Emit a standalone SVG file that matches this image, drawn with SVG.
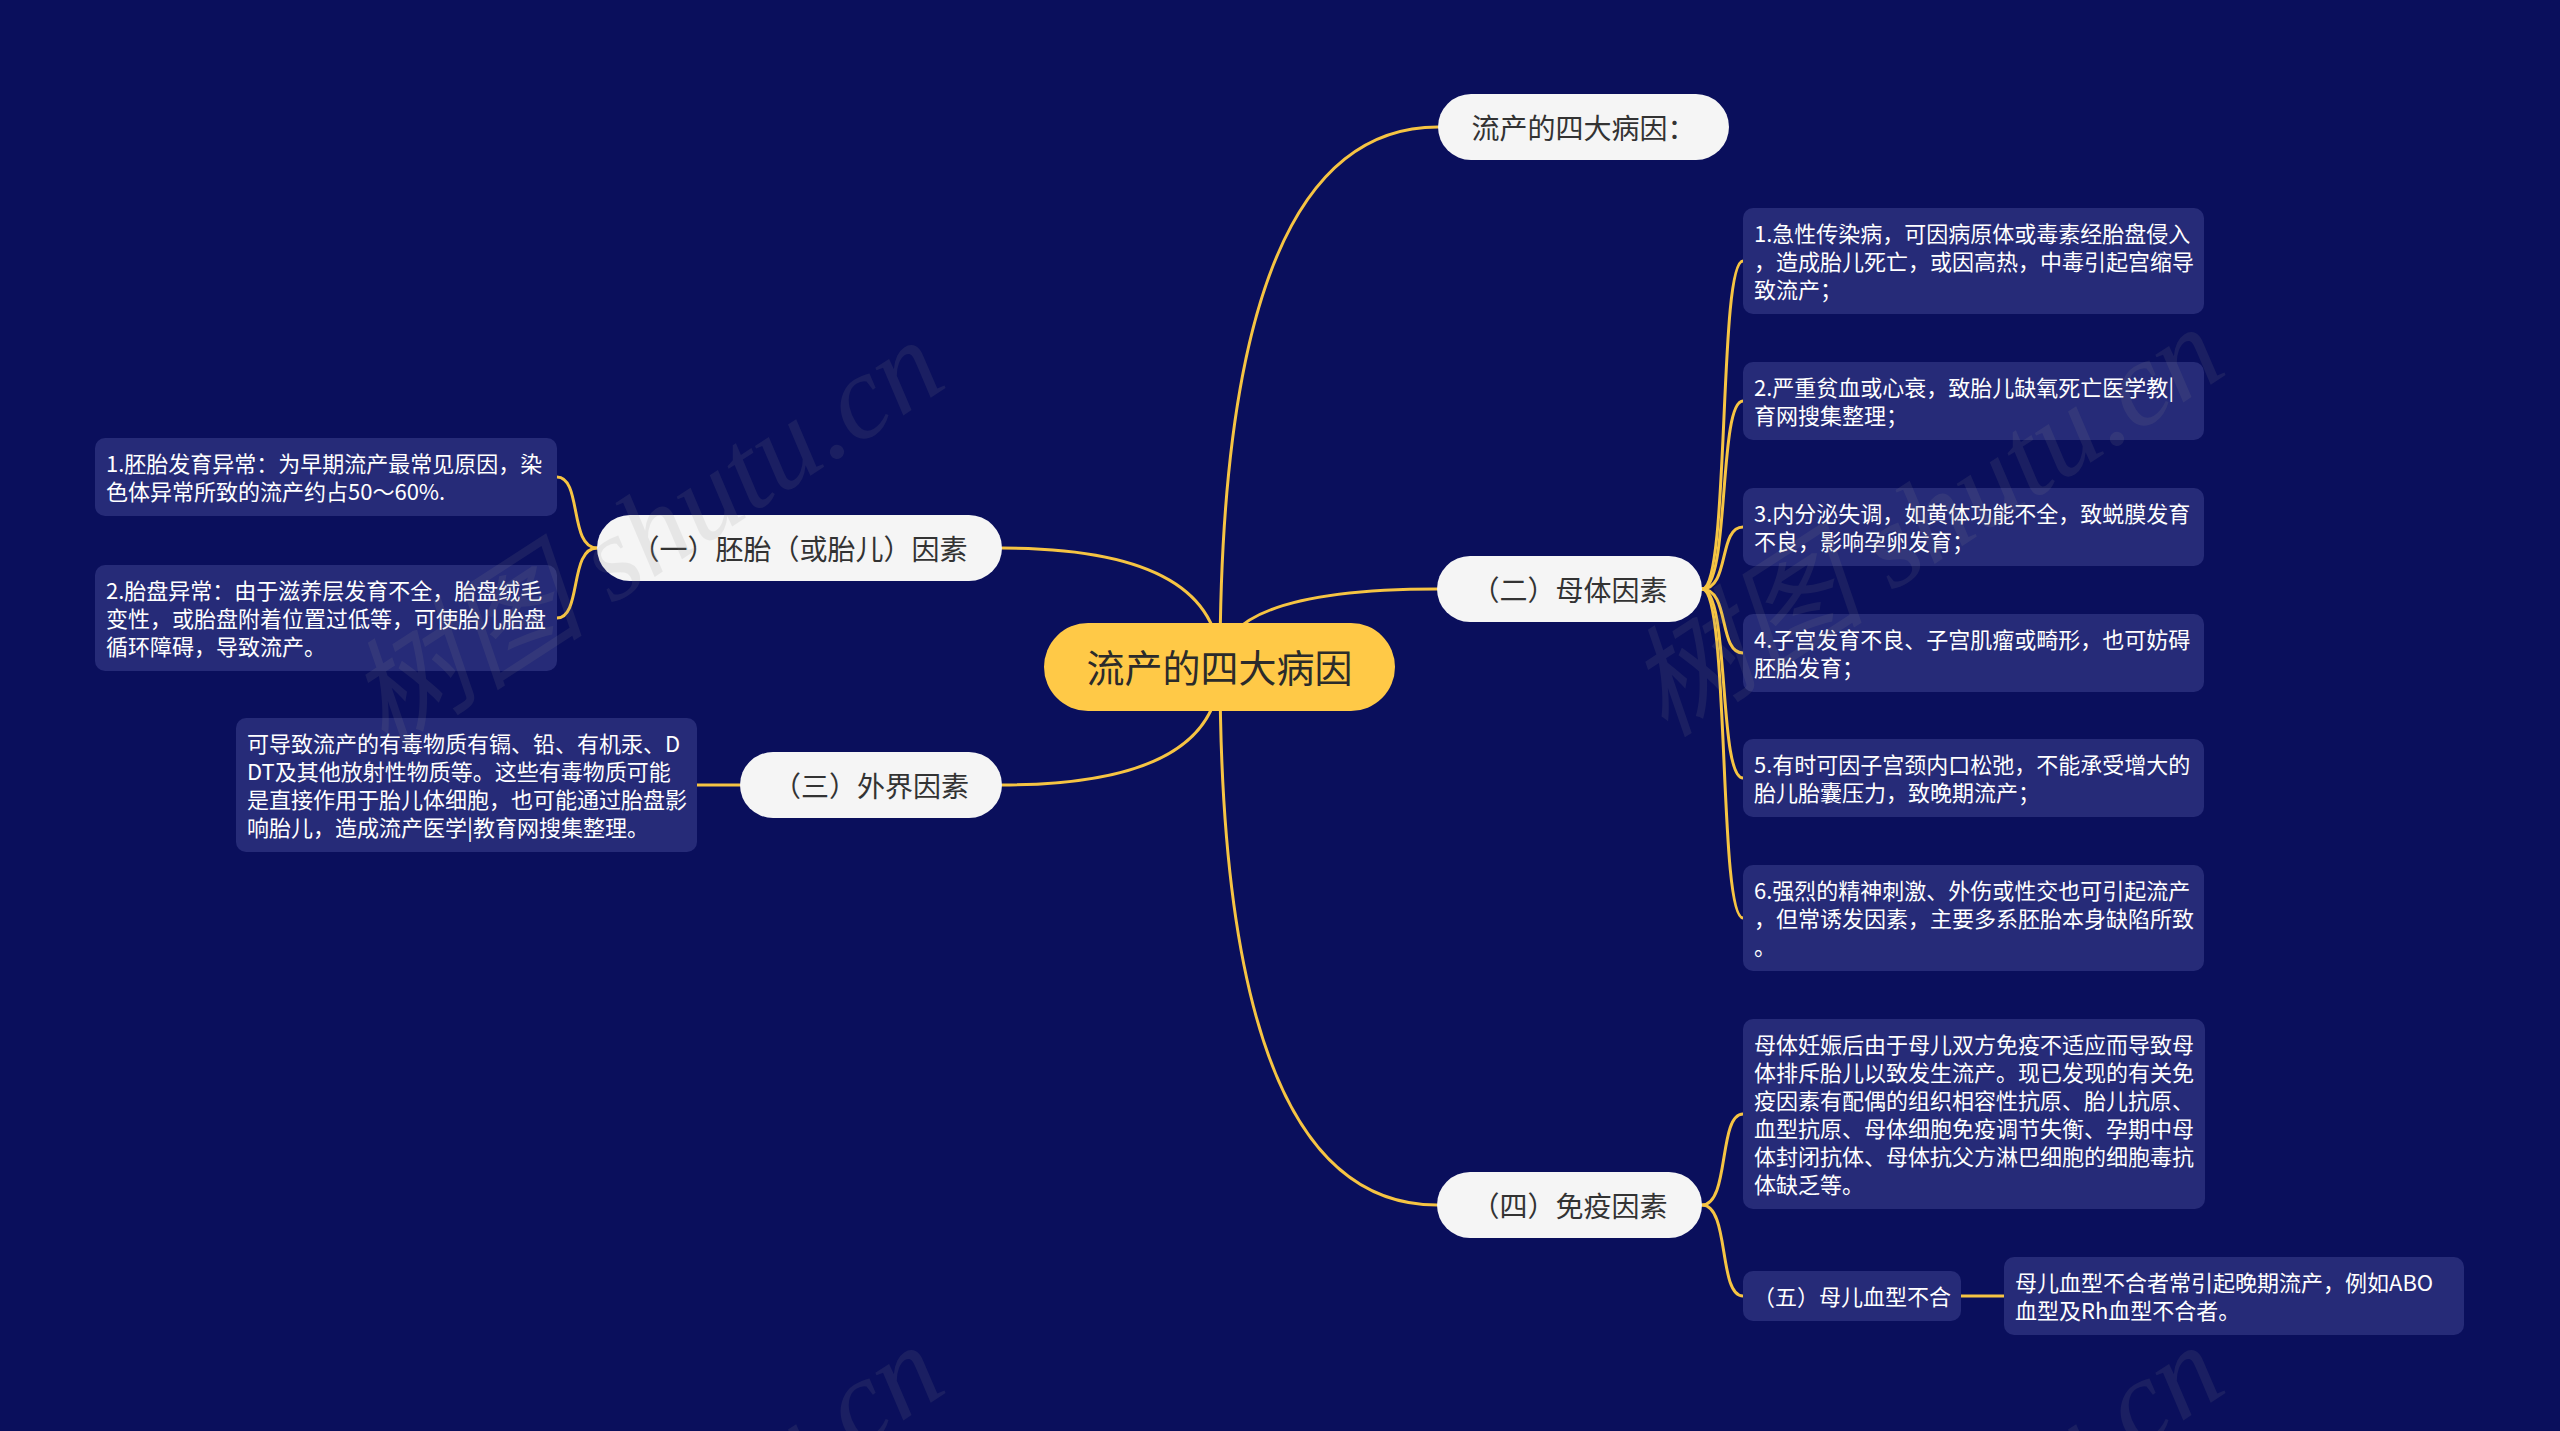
<svg xmlns="http://www.w3.org/2000/svg" width="2560" height="1431" viewBox="0 0 2560 1431">
<style>
.edge{fill:none;stroke:#F6C443;stroke-width:3;stroke-linecap:round}
.pill{fill:#F5F5F5}
.root{fill:#FFC947}
.leaf{fill:#262B78}
.pt{font-family:'Noto Sans CJK SC','Noto Sans',sans-serif;font-size:28px;fill:#333333;text-anchor:middle;dominant-baseline:central}
.rt{font-family:'Noto Sans CJK SC','Noto Sans',sans-serif;font-size:38px;fill:#2B2B2B;text-anchor:middle;dominant-baseline:central}
.lt{font-family:'Noto Sans CJK SC','Noto Sans',sans-serif;font-size:22px;fill:#FFFFFF;dominant-baseline:central}
.wm{font-family:'Liberation Serif','Noto Sans CJK SC',serif;font-style:italic;font-size:120px;fill:#8A8A8A;opacity:0.13;text-anchor:end}
</style>
<rect width="2560" height="1431" fill="#0A0F5C"/>

<g id="connectors">
  <path class="edge" d="M1220 667 Q1220 127 1438 127"/>
  <path class="edge" d="M1220 667 Q1220 548 1002 548"/>
  <path class="edge" d="M1220 667 Q1220 589 1437 589"/>
  <path class="edge" d="M1220 667 Q1220 785 1002 785"/>
  <path class="edge" d="M1220 667 Q1220 1205 1437 1205"/>
  <path class="edge" d="M1702 589 C1730 589 1718 261 1743 261"/>
  <path class="edge" d="M1702 589 C1730 589 1718 401 1743 401"/>
  <path class="edge" d="M1702 589 C1730 589 1718 527 1743 527"/>
  <path class="edge" d="M1702 589 C1730 589 1718 653 1743 653"/>
  <path class="edge" d="M1702 589 C1730 589 1718 778 1743 778"/>
  <path class="edge" d="M1702 589 C1730 589 1718 918 1743 918"/>
  <path class="edge" d="M1702 1205 C1730 1205 1718 1114 1743 1114"/>
  <path class="edge" d="M1702 1205 C1730 1205 1718 1296 1743 1296"/>
  <path class="edge" d="M1961 1296 H2004"/>
  <path class="edge" d="M597 548 C569 548 582 477 557 477"/>
  <path class="edge" d="M597 548 C569 548 582 618 557 618"/>
  <path class="edge" d="M740 785 H697"/>
</g>

<g id="root">
  <rect class="root" x="1044" y="623" width="351" height="88" rx="44"/>
  <text class="rt" x="1219.5" y="665">流产的四大病因</text>
</g>

<g id="n-top">
  <rect class="pill" x="1438" y="94" width="291" height="66" rx="33"/>
  <text class="pt" x="1583.5" y="127">流产的四大病因：</text>
</g>

<g id="n-1">
  <rect class="pill" x="597" y="515" width="405" height="66" rx="33"/>
  <text class="pt" x="799.5" y="548">（一）胚胎（或胎儿）因素</text>
</g>

<g id="n-2">
  <rect class="pill" x="1437" y="556" width="265" height="66" rx="33"/>
  <text class="pt" x="1569.5" y="589">（二）母体因素</text>
</g>

<g id="n-3">
  <rect class="pill" x="740" y="752" width="262" height="66" rx="33"/>
  <text class="pt" x="871" y="785">（三）外界因素</text>
</g>

<g id="n-4">
  <rect class="pill" x="1437" y="1172" width="265" height="66" rx="33"/>
  <text class="pt" x="1569.5" y="1205">（四）免疫因素</text>
</g>

<g id="l-1-1">
  <rect class="leaf" x="95" y="438" width="462" height="78" rx="10"/>
  <text class="lt" x="106" y="461.5">1.胚胎发育异常：为早期流产最常见原因，染</text>
  <text class="lt" x="106" y="489.5">色体异常所致的流产约占50～60%.</text>
</g>

<g id="l-1-2">
  <rect class="leaf" x="95" y="565" width="462" height="106" rx="10"/>
  <text class="lt" x="106" y="588.5">2.胎盘异常：由于滋养层发育不全，胎盘绒毛</text>
  <text class="lt" x="106" y="616.5">变性，或胎盘附着位置过低等，可使胎儿胎盘</text>
  <text class="lt" x="106" y="644.5">循环障碍，导致流产。</text>
</g>

<g id="l-3-1">
  <rect class="leaf" x="236" y="718" width="461" height="134" rx="10"/>
  <text class="lt" x="247" y="741.5">可导致流产的有毒物质有镉、铅、有机汞、D</text>
  <text class="lt" x="247" y="769.5">DT及其他放射性物质等。这些有毒物质可能</text>
  <text class="lt" x="247" y="797.5">是直接作用于胎儿体细胞，也可能通过胎盘影</text>
  <text class="lt" x="247" y="825.5">响胎儿，造成流产医学|教育网搜集整理。</text>
</g>

<g id="l-2-1">
  <rect class="leaf" x="1743" y="208" width="461" height="106" rx="10"/>
  <text class="lt" x="1754" y="231.5">1.急性传染病，可因病原体或毒素经胎盘侵入</text>
  <text class="lt" x="1754" y="259.5">，造成胎儿死亡，或因高热，中毒引起宫缩导</text>
  <text class="lt" x="1754" y="287.5">致流产；</text>
</g>

<g id="l-2-2">
  <rect class="leaf" x="1743" y="362" width="461" height="78" rx="10"/>
  <text class="lt" x="1754" y="385.5">2.严重贫血或心衰，致胎儿缺氧死亡医学教|</text>
  <text class="lt" x="1754" y="413.5">育网搜集整理；</text>
</g>

<g id="l-2-3">
  <rect class="leaf" x="1743" y="488" width="461" height="78" rx="10"/>
  <text class="lt" x="1754" y="511.5">3.内分泌失调，如黄体功能不全，致蜕膜发育</text>
  <text class="lt" x="1754" y="539.5">不良，影响孕卵发育；</text>
</g>

<g id="l-2-4">
  <rect class="leaf" x="1743" y="614" width="461" height="78" rx="10"/>
  <text class="lt" x="1754" y="637.5">4.子宫发育不良、子宫肌瘤或畸形，也可妨碍</text>
  <text class="lt" x="1754" y="665.5">胚胎发育；</text>
</g>

<g id="l-2-5">
  <rect class="leaf" x="1743" y="739" width="461" height="78" rx="10"/>
  <text class="lt" x="1754" y="762.5">5.有时可因子宫颈内口松弛，不能承受增大的</text>
  <text class="lt" x="1754" y="790.5">胎儿胎囊压力，致晚期流产；</text>
</g>

<g id="l-2-6">
  <rect class="leaf" x="1743" y="865" width="461" height="106" rx="10"/>
  <text class="lt" x="1754" y="888.5">6.强烈的精神刺激、外伤或性交也可引起流产</text>
  <text class="lt" x="1754" y="916.5">，但常诱发因素，主要多系胚胎本身缺陷所致</text>
  <text class="lt" x="1754" y="944.5">。</text>
</g>

<g id="l-4-1">
  <rect class="leaf" x="1743" y="1019" width="462" height="190" rx="10"/>
  <text class="lt" x="1754" y="1042.5">母体妊娠后由于母儿双方免疫不适应而导致母</text>
  <text class="lt" x="1754" y="1070.5">体排斥胎儿以致发生流产。现已发现的有关免</text>
  <text class="lt" x="1754" y="1098.5">疫因素有配偶的组织相容性抗原、胎儿抗原、</text>
  <text class="lt" x="1754" y="1126.5">血型抗原、母体细胞免疫调节失衡、孕期中母</text>
  <text class="lt" x="1754" y="1154.5">体封闭抗体、母体抗父方淋巴细胞的细胞毒抗</text>
  <text class="lt" x="1754" y="1182.5">体缺乏等。</text>
</g>

<g id="n-5">
  <rect class="leaf" x="1743" y="1271" width="218" height="50" rx="10"/>
  <text class="lt" x="1753" y="1295">（五）母儿血型不合</text>
</g>

<g id="l-5-1">
  <rect class="leaf" x="2004" y="1257" width="460" height="78" rx="10"/>
  <text class="lt" x="2015" y="1280.5">母儿血型不合者常引起晚期流产，例如ABO</text>
  <text class="lt" x="2015" y="1308.5">血型及Rh血型不合者。</text>
</g>

<g id="watermarks">
  <text class="wm" transform="translate(950 385) rotate(-33)">树图 shutu.cn</text>
  <text class="wm" transform="translate(2230 372) rotate(-33)">树图 shutu.cn</text>
  <text class="wm" transform="translate(950 1390) rotate(-33)">树图 shutu.cn</text>
  <text class="wm" transform="translate(2230 1390) rotate(-33)">树图 shutu.cn</text>
</g>
</svg>
